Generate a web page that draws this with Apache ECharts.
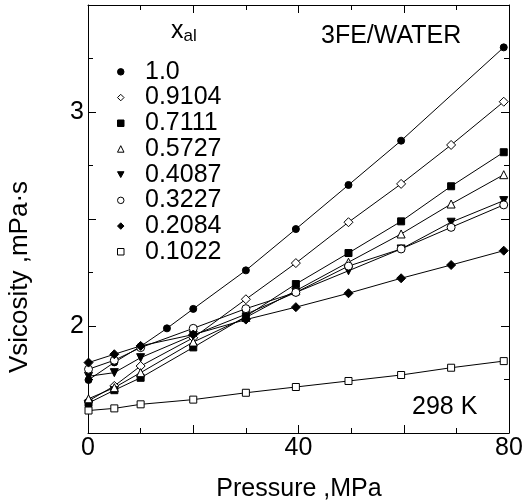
<!DOCTYPE html>
<html>
<head>
<meta charset="utf-8">
<script src="https://cdn.jsdelivr.net/npm/echarts@6/dist/echarts.min.js"></script>
<style>html,body{margin:0;padding:0;background:#fff}#c{width:526px;height:504px}</style>
</head>
<body>
<div id="c"></div>
<script>
// ---- data (pressure in MPa, viscosity in mPa·s) ----
const seriesNames = ['1.0', '0.9104', '0.7111', '0.5727', '0.4087', '0.3227', '0.2084', '0.1022'];
const pressure = [0.1, 5, 10, 20, 30, 39.5, 49.5, 59.5, 69, 79];
const pressure_10 = [0.1, 5, 10, 15, 20, 30, 39.5, 49.5, 59.5, 79];
const v_1000 = [1.748, 1.83, 1.905, 1.989, 2.08, 2.26, 2.453, 2.659, 2.866, 3.302];
const v_9104 = [1.65, 1.72, 1.813, 1.945, 2.125, 2.294, 2.485, 2.664, 2.846, 3.048];
const v_7111 = [1.64, 1.70, 1.758, 1.90, 2.045, 2.196, 2.341, 2.489, 2.653, 2.812];
const v_5727 = [1.66, 1.712, 1.782, 1.925, 2.04, 2.165, 2.298, 2.43, 2.57, 2.707];
const v_4087 = [1.765, 1.782, 1.852, 1.957, 2.055, 2.157, 2.258, 2.36, 2.485, 2.586];
const v_3227 = [1.798, 1.84, 1.899, 1.989, 2.081, 2.157, 2.28, 2.36, 2.461, 2.566];
const v_2084 = [1.829, 1.868, 1.907, 1.96, 2.03, 2.088, 2.153, 2.223, 2.285, 2.352];
const v_1022 = [1.605, 1.615, 1.634, 1.656, 1.688, 1.715, 1.743, 1.771, 1.805, 1.836];
const xTickLabels = [0, 40, 80];
const yTickLabels = [2, 3];

const FONT = "'Liberation Sans', Arial, Helvetica, sans-serif";
const FS = 25;
const downTri = 'path://M0,0 L10,0 L5,9 Z';
const styles = [
  {symbol: 'circle', size: 7, fill: '#000', pressures: pressure_10, values: v_1000},
  {symbol: 'diamond', size: 9, fill: '#fff', pressures: pressure, values: v_9104},
  {symbol: 'rect', size: 7, fill: '#000', pressures: pressure, values: v_7111},
  {symbol: 'triangle', size: 8, fill: '#fff', pressures: pressure, values: v_5727},
  {symbol: downTri, size: 8, fill: '#000', pressures: pressure, values: v_4087},
  {symbol: 'circle', size: 8, fill: '#fff', pressures: pressure, values: v_3227},
  {symbol: 'diamond', size: 9, fill: '#000', pressures: pressure, values: v_2084},
  {symbol: 'rect', size: 7, fill: '#fff', pressures: pressure, values: v_1022}
];

const series = styles.map((s, i) => ({
  name: seriesNames[i],
  type: 'line',
  data: s.pressures.map((p, j) => [p, s.values[j]]),
  symbol: s.symbol,
  symbolSize: s.size,
  showAllSymbol: true,
  lineStyle: {color: '#000', width: 1},
  itemStyle: {color: s.fill, borderColor: '#000', borderWidth: 1},
  emphasis: {disabled: true},
  animation: false,
  z: 3
}));

const legendData = styles.map((s, i) => ({
  name: seriesNames[i],
  icon: s.symbol,
  itemStyle: {color: s.fill, borderColor: '#000', borderWidth: 1}
}));

const axisCommon = {
  type: 'value',
  axisLine: {show: true, onZero: false, lineStyle: {color: '#000', width: 1}},
  axisTick: {show: true, inside: true, length: 8, lineStyle: {color: '#000'}},
  minorTick: {show: true, splitNumber: 2, length: 5, lineStyle: {color: '#000'}},
  splitLine: {show: false},
  minorSplitLine: {show: false}
};

const option = {
  animation: false,
  backgroundColor: '#fff',
  grid: {left: 88, right: 17, top: 5, bottom: 71},
  xAxis: [
    Object.assign({}, axisCommon, {
      position: 'bottom', min: 0, max: 80, interval: 20,
      axisLabel: {color: '#000', fontSize: FS, fontFamily: FONT, margin: 3,
        formatter: v => xTickLabels.includes(v) ? String(v) : ''}
    }),
    Object.assign({}, axisCommon, {
      position: 'top', min: 0, max: 80, interval: 20, axisLabel: {show: false}
    })
  ],
  yAxis: [
    Object.assign({}, axisCommon, {
      position: 'left', min: 1.5, max: 3.5, interval: 0.5,
      axisLabel: {color: '#000', fontSize: FS, fontFamily: FONT, margin: 4,
        formatter: v => yTickLabels.includes(v) ? String(v) : ''}
    }),
    Object.assign({}, axisCommon, {
      position: 'right', min: 1.5, max: 3.5, interval: 0.5, axisLabel: {show: false}
    })
  ],
  legend: {
    orient: 'vertical',
    left: 117, top: 59,
    padding: 0,
    itemGap: 0,
    itemWidth: 6.5, itemHeight: 6.5,
    selectedMode: false,
    data: legendData,
    textStyle: {color: '#000', fontSize: FS, fontFamily: FONT, lineHeight: 25.7, padding: [0, 0, 0, 16]}
  },
  graphic: [
    {type: 'text', left: 171, top: 19, style: {
      text: '{x|x}{s|al}', fontFamily: FONT,
      rich: {x: {fontSize: FS, fontFamily: FONT, fill: '#000'},
             s: {fontSize: 17, fontFamily: FONT, fill: '#000', padding: [10, 0, 0, 0]}}
    }},
    {type: 'text', x: 321, y: 36, style: {text: '3FE/WATER', fontSize: FS, fontFamily: FONT, fill: '#000', verticalAlign: 'middle'}},
    {type: 'text', x: 412, y: 407, style: {text: '298 K', fontSize: FS, fontFamily: FONT, fill: '#000', verticalAlign: 'middle'}},
    {type: 'text', x: 299, y: 489, style: {text: 'Pressure ,MPa', fontSize: FS, fontFamily: FONT, fill: '#000', align: 'center', verticalAlign: 'middle'}},
    {type: 'text', x: 20, y: 277, rotation: Math.PI / 2, style: {text: 'Vsicosity ,mPa·s', fontSize: 26, fontFamily: FONT, fill: '#000', align: 'center', verticalAlign: 'middle'}}
  ],
  series: series
};

const chart = echarts.init(document.getElementById('c'), null, {renderer: 'canvas'});
chart.setOption(option);
</script>
</body>
</html>
